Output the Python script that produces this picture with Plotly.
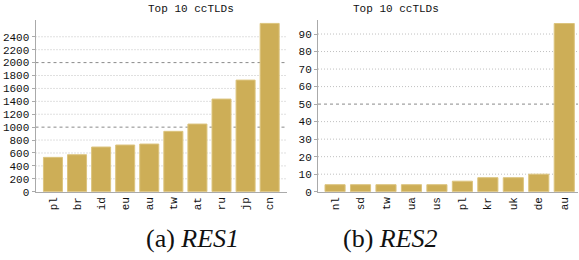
import plotly.graph_objects as go

W, H = 579, 260

res1_cats = ["pl", "br", "id", "eu", "au", "tw", "at", "ru", "jp", "cn"]
res1_vals = [532, 573, 692, 723, 738, 935, 1048, 1435, 1729, 2607]
res1_ticks = list(range(0, 2401, 200))
res1_major = [1000, 2000]

res2_cats = ["nl", "sd", "tw", "ua", "us", "pl", "kr", "uk", "de", "au"]
res2_vals = [4, 4, 4, 4, 4, 6, 8, 8, 10, 96]
res2_ticks = list(range(0, 91, 10))
res2_major = [50]

BAR = "#cdae57"
EDGE = "#dcc47e"
MONO = "Liberation Mono, DejaVu Sans Mono, monospace"
SERIF = "Liberation Serif, DejaVu Serif, serif"
TXT = "#111111"

fig = go.Figure()
fig.add_trace(go.Bar(x=res1_cats, y=res1_vals, marker=dict(color=BAR, line=dict(color=EDGE, width=1)),
                     xaxis="x", yaxis="y", showlegend=False))
fig.add_trace(go.Bar(x=res2_cats, y=res2_vals, marker=dict(color=BAR, line=dict(color=EDGE, width=1)),
                     xaxis="x2", yaxis="y2", showlegend=False))

ydom = [(260 - 191.7) / H, (260 - 20) / H]

common_x = dict(type="category", tickangle=-90, showgrid=False, showline=True, linecolor="#aaaaaa",
                linewidth=1, ticks="", automargin=False,
                tickfont=dict(family=MONO, size=11, color=TXT), fixedrange=True)
common_y = dict(showgrid=False, zeroline=False, automargin=False,
                showline=True, linecolor="#aaaaaa", linewidth=1, ticks="outside", ticklen=3,
                tickcolor="#aaaaaa", tickfont=dict(family=MONO, size=11, color=TXT), fixedrange=True)

fig.update_layout(
    width=W, height=H, margin=dict(l=0, r=0, t=0, b=0, autoexpand=False),
    paper_bgcolor="white", plot_bgcolor="white", bargap=0.21,
    xaxis=dict(common_x, domain=[35.5 / W, 287 / W], range=[-0.725, 9.72], anchor="y"),
    yaxis=dict(common_y, domain=ydom, range=[0, 2660], tickvals=res1_ticks, anchor="x"),
    xaxis2=dict(common_x, domain=[318 / W, 578 / W], range=[-0.67, 9.54], anchor="y2"),
    yaxis2=dict(common_y, domain=ydom, range=[0, 98], tickvals=res2_ticks, anchor="x2"),
)

shapes = []
def grid(ticks, major, xr, yr):
    for v in ticks:
        if v == 0:
            continue
        if v in major:
            line = dict(color="#8a8a8a", width=1, dash="3px,3px")
        else:
            line = dict(color="#c0c0c0", width=1, dash="1px,2px")
        shapes.append(dict(type="line", xref=xr, yref=yr, x0=0, x1=1, y0=v, y1=v,
                           line=line, layer="below"))
grid(res1_ticks, res1_major, "x domain", "y")
grid(res2_ticks, res2_major, "x2 domain", "y2")
fig.update_layout(shapes=shapes)

ann = [
    dict(text="Top 10 ccTLDs", x=146 / W, y=1 - 9 / H, xref="paper", yref="paper", showarrow=False,
         yanchor="middle", font=dict(family=MONO, size=11, color=TXT)),
    dict(text="Top 10 ccTLDs", x=441 / W, y=1 - 9 / H, xref="paper", yref="paper", showarrow=False,
         yanchor="middle", font=dict(family=MONO, size=11, color=TXT)),
    dict(text="(a) <i>RES1</i>", x=144 / W, y=1 - 238 / H, xref="paper", yref="paper", showarrow=False,
         yanchor="middle", font=dict(family=SERIF, size=26, color=TXT)),
    dict(text="(b) <i>RES2</i>", x=440 / W, y=1 - 238 / H, xref="paper", yref="paper", showarrow=False,
         yanchor="middle", font=dict(family=SERIF, size=26, color=TXT)),
]
fig.update_layout(annotations=ann)

fig.write_html("out.html", config={"displayModeBar": False, "staticPlot": True},
               post_script="document.body.style.margin='0';document.body.style.overflow='hidden';")
